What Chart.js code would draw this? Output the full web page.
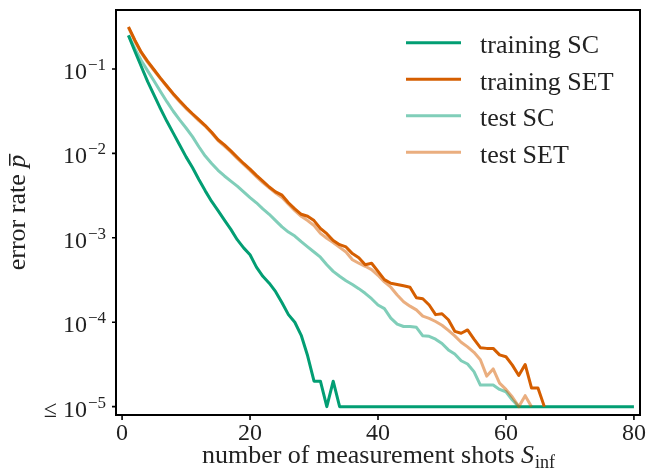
<!DOCTYPE html>
<html>
<head>
<meta charset="utf-8">
<script src="https://cdn.jsdelivr.net/npm/chart.js@4.4.1/dist/chart.umd.min.js"></script>
<style>
  html, body { margin: 0; padding: 0; background: #fff; }
  canvas { display: block; }
</style>
</head>
<body>
<canvas id="errChart" width="646" height="472"></canvas>
<script>
// number of measurement shots (x)
const shots = [1,2,3,4,5,6,7,8,9,10,11,12,13,14,15,16,17,18,19,20,
  21,22,23,24,25,26,27,28,29,30,31,32,33,34,35,36,37,38,39,40,
  41,42,43,44,45,46,47,48,49,50,51,52,53,54,55,56,57,58,59,60,
  61,62,63,64,65,66,67,68,69,70,71,72,73,74,75,76,77,78,79,80];

const trainingSC = [0.25,0.162,0.107,0.071,0.049,0.034,0.024,0.0174,0.0126,0.0091,
  0.0068,0.0049,0.0036,0.0027,0.0021,0.00162,0.00126,0.00095,0.00076,0.00063,
  0.00045,0.00035,0.00029,0.00023,0.00017,0.000123,0.0001,0.00007,0.00004,0.00002,
  0.00002,0.00001,0.00002,0.00001,0.00001,0.00001,0.00001,0.00001,0.00001,0.00001,
  0.00001,0.00001,0.00001,0.00001,0.00001,0.00001,0.00001,0.00001,0.00001,0.00001,
  0.00001,0.00001,0.00001,0.00001,0.00001,0.00001,0.00001,0.00001,0.00001,0.00001,
  0.00001,0.00001,0.00001,0.00001,0.00001,0.00001,0.00001,0.00001,0.00001,0.00001,
  0.00001,0.00001,0.00001,0.00001,0.00001,0.00001,0.00001,0.00001,0.00001,0.00001];

const trainingSET = [0.316,0.219,0.158,0.123,0.098,0.078,0.063,0.051,0.042,0.035,
  0.0295,0.0251,0.0214,0.0178,0.0145,0.0126,0.0107,0.009,0.0076,0.0065,
  0.0055,0.0047,0.004,0.0035,0.0032,0.0026,0.0022,0.0019,0.0018,0.0016,
  0.00129,0.00112,0.00093,0.00083,0.00078,0.00065,0.00058,0.00048,0.0005,0.0004,
  0.00032,0.00029,0.00028,0.00027,0.00026,0.000195,0.00019,0.00016,0.000123,0.000126,
  0.000107,0.000078,0.000074,0.000081,0.000063,0.00005,0.000049,0.000049,0.000041,0.000039,
  0.000031,0.0000234,0.0000316,0.0000166,0.0000166,0.00001,null,null,null,null,
  null,null,null,null,null,null,null,null,null,null];

const testSC = [0.25,0.174,0.126,0.095,0.072,0.054,0.041,0.0316,0.025,0.02,
  0.0158,0.012,0.0093,0.0076,0.0063,0.0054,0.0047,0.0041,0.0035,0.003,
  0.0026,0.0022,0.0019,0.0016,0.00135,0.00117,0.00105,0.0009,0.00078,0.00068,
  0.00059,0.00048,0.0004,0.00035,0.00031,0.00028,0.00025,0.00022,0.00019,0.00016,
  0.000145,0.000112,0.000095,0.000089,0.000089,0.000087,0.000069,0.000068,0.000063,0.000056,
  0.000047,0.000042,0.000035,0.000032,0.000026,0.000018,0.000018,0.000018,0.000016,0.000015,
  0.000012,0.00001,null,null,null,null,null,null,null,null,
  null,null,null,null,null,null,null,null,null,null];

const testSET = [0.31,0.215,0.155,0.12,0.096,0.077,0.062,0.05,0.041,0.034,
  0.029,0.0245,0.021,0.0174,0.0142,0.0122,0.0104,0.0087,0.0074,0.0063,
  0.0053,0.0045,0.0039,0.0034,0.003,0.0025,0.0021,0.0018,0.0016,0.0014,
  0.00113,0.00099,0.00088,0.00077,0.00068,0.00055,0.0005,0.00046,0.00042,0.00036,
  0.0003,0.00026,0.00021,0.000175,0.000155,0.00014,0.000118,0.000111,0.000102,0.000092,
  0.00008,0.000069,0.000058,0.000051,0.000044,0.000036,0.000023,0.000028,0.000019,0.000016,
  0.000013,0.00001,0.0000135,0.00001,null,null,null,null,null,null,
  null,null,null,null,null,null,null,null,null,null];

const seriesNames = ['training SC', 'training SET', 'test SC', 'test SET'];
const xTicks = [0, 20, 40, 60, 80];
const yTicks = [1e-5, 1e-4, 1e-3, 1e-2, 1e-1];
const yTickExp = ['\u22125', '\u22124', '\u22123', '\u22122', '\u22121'];

const SERIF = "'Liberation Serif', 'Times New Roman', serif";
const TXT = '#222';

const colors = ['#029e73', '#d55e00', 'rgba(2,158,115,0.5)', 'rgba(213,94,0,0.5)'];
const allSeries = [trainingSC, trainingSET, testSC, testSET];

function toPoints(arr) {
  return shots.map((x, i) => ({ x: x, y: arr[i] }));
}

// frame, ticks, labels, axis titles and legend
const decorPlugin = {
  id: 'decor',
  afterDraw(chart) {
    const ctx = chart.ctx;
    const a = chart.chartArea;
    const xs = chart.scales.x, ys = chart.scales.y;
    ctx.save();

    ctx.strokeStyle = '#000';
    ctx.lineWidth = 2;
    ctx.strokeRect(a.left, a.top, a.right - a.left, a.bottom - a.top);

    ctx.lineWidth = 1.6;
    ctx.beginPath();
    xTicks.forEach(v => {
      const px = xs.getPixelForValue(v);
      ctx.moveTo(px, a.bottom); ctx.lineTo(px, a.bottom + 5);
    });
    yTicks.forEach(v => {
      const py = ys.getPixelForValue(v);
      ctx.moveTo(a.left, py); ctx.lineTo(a.left - 4, py);
    });
    ctx.stroke();

    ctx.fillStyle = TXT;
    ctx.textBaseline = 'alphabetic';

    // x tick labels
    ctx.font = '24px ' + SERIF;
    ctx.textAlign = 'center';
    xTicks.forEach(v => {
      ctx.fillText(String(v), xs.getPixelForValue(v), 440);
    });

    // y tick labels: 10^n
    yTicks.forEach((v, i) => {
      const py = ys.getPixelForValue(v);
      ctx.font = '24px ' + SERIF;
      ctx.textAlign = 'right';
      ctx.fillText(i === 0 ? '\u2264 10' : '10', 87, py + 10);
      ctx.font = '17px ' + SERIF;
      ctx.textAlign = 'left';
      ctx.fillText(yTickExp[i], 88, py + 1);
    });

    // x title
    const xTitle = 'number of measurement shots ';
    ctx.font = '26px ' + SERIF;
    const w1 = ctx.measureText(xTitle).width;
    ctx.font = 'italic 26px ' + SERIF;
    const w2 = ctx.measureText('S').width;
    ctx.font = '18px ' + SERIF;
    const w3 = ctx.measureText('inf').width;
    const sx = (a.left + a.right) / 2 - (w1 + w2 + w3) / 2;
    const by = 463;
    ctx.textAlign = 'left';
    ctx.font = '26px ' + SERIF;
    ctx.fillText(xTitle, sx, by);
    ctx.font = 'italic 26px ' + SERIF;
    ctx.fillText('S', sx + w1, by);
    ctx.font = '18px ' + SERIF;
    ctx.fillText('inf', sx + w1 + w2 + 1, by + 5);

    // y title
    ctx.save();
    ctx.translate(25, (a.top + a.bottom) / 2);
    ctx.rotate(-Math.PI / 2);
    ctx.font = '26px ' + SERIF;
    const t1 = 'error rate ';
    const wt = ctx.measureText(t1).width;
    ctx.font = 'italic 26px ' + SERIF;
    const wp = ctx.measureText('p').width;
    const sy = -(wt + wp) / 2;
    ctx.font = '26px ' + SERIF;
    ctx.fillText(t1, sy, 0);
    ctx.font = 'italic 26px ' + SERIF;
    ctx.fillText('p', sy + wt, 0);
    ctx.fillRect(sy + wt + 2, -16, wp - 1, 1.5);
    ctx.restore();

    // legend
    seriesNames.forEach((name, i) => {
      const ly = 42.7 + i * 36.5;
      ctx.strokeStyle = colors[i];
      ctx.lineWidth = 3;
      ctx.beginPath();
      ctx.moveTo(406, ly); ctx.lineTo(461, ly);
      ctx.stroke();
      ctx.fillStyle = TXT;
      ctx.font = '26px ' + SERIF;
      ctx.textAlign = 'left';
      ctx.fillText(name, 480, ly + 10.5);
    });

    ctx.restore();
  }
};

new Chart(document.getElementById('errChart').getContext('2d'), {
  type: 'line',
  data: {
    datasets: allSeries.map((arr, i) => ({
      label: seriesNames[i],
      data: toPoints(arr),
      borderColor: colors[i],
      borderWidth: 3,
      pointRadius: 0,
      tension: 0,
      spanGaps: false,
      borderJoinStyle: 'round',
      order: 3 - i
    }))
  },
  options: {
    responsive: false,
    animation: false,
    devicePixelRatio: 1,
    layout: { padding: { top: 10, right: 6, left: 0, bottom: 0 } },
    plugins: { legend: { display: false }, tooltip: { enabled: false } },
    scales: {
      x: {
        type: 'linear',
        min: -0.95,
        max: 80.95,
        afterBuildTicks: s => { s.ticks = xTicks.map(v => ({ value: v })); },
        afterFit: s => { s.height = 57; s.paddingLeft = 0; s.paddingRight = 0; },
        grid: { display: false },
        border: { display: false },
        ticks: { display: false }
      },
      y: {
        type: 'logarithmic',
        min: 7.96e-6,
        max: 0.5,
        afterBuildTicks: s => { s.ticks = yTicks.map(v => ({ value: v })); },
        afterFit: s => { s.width = 116; s.paddingTop = 0; s.paddingBottom = 0; },
        grid: { display: false },
        border: { display: false },
        ticks: { display: false }
      }
    }
  },
  plugins: [decorPlugin]
});
</script>
</body>
</html>
